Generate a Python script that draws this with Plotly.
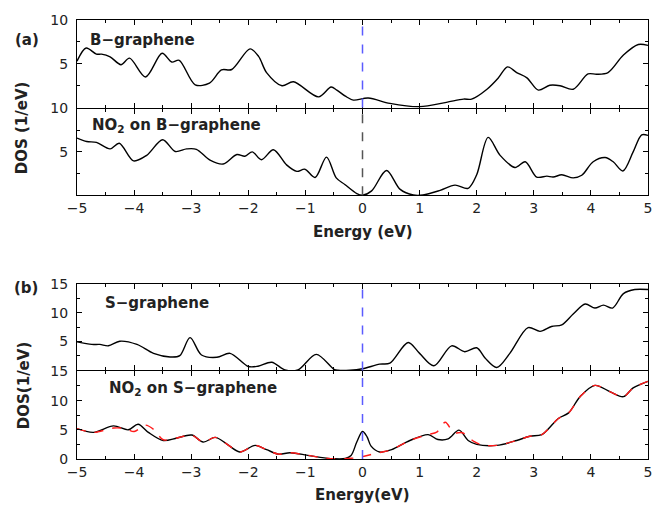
import plotly.graph_objects as go

# ---------------- data ----------------
E_b = [-5, -4.84, -4.66, -4.57, -4.42, -4.23, -4.08, -3.80, -3.51, -3.34, -3.21, -2.93, -2.68, -2.47,
       -2.29, -1.97, -1.82, -1.68, -1.41, -1.21, -0.77, -0.55, -0.45, -0.30, -0.16, 0.10, 0.48, 1.0,
       1.47, 1.77, 1.91, 2.18, 2.38, 2.54, 2.70, 2.88, 3.08, 3.28, 3.46, 3.69, 3.95, 4.10, 4.30, 4.57,
       4.83, 5.0]
dos_b = [5.3, 6.8, 6.1, 6.1, 5.8, 4.9, 5.65, 3.5, 6.2, 5.2, 5.4, 2.6, 2.8, 4.3,
         4.35, 6.7, 5.85, 4.0, 2.5, 2.95, 1.23, 2.35, 2.0, 1.3, 0.86, 1.09, 0.48, 0.1,
         0.6, 0.97, 0.97, 2.1, 3.4, 4.65, 4.0, 3.4, 2.0, 2.55, 2.5, 2.1, 3.85, 3.8, 4.0, 6.0,
         7.2, 7.1]

E_nb = [-5, -4.83, -4.66, -4.42, -4.26, -4.01, -3.78, -3.50, -3.28, -3.08, -2.91, -2.67, -2.44, -2.20,
        -2.06, -1.93, -1.77, -1.56, -1.33, -1.15, -1.01, -0.83, -0.63, -0.46, -0.31, -0.10, 0.0, 0.16,
        0.42, 0.66, 0.89, 1.06, 1.36, 1.62, 1.85, 2.0, 2.20, 2.41, 2.67, 2.85, 3.05, 3.23, 3.34, 3.49,
        3.69, 3.84, 4.04, 4.25, 4.39, 4.56, 4.74, 4.89, 5.0]
dos_nb = [6.6, 6.2, 6.1, 5.35, 6.0, 3.97, 4.6, 6.4, 5.05, 5.35, 5.3, 4.05, 3.6, 4.7,
          4.5, 5.0, 4.1, 5.25, 3.5, 2.75, 3.0, 2.05, 4.4, 2.0, 1.24, 0.19, 0.0, 0.5,
          2.85, 0.67, 0.02, 0.02, 0.56, 1.16, 0.8, 2.36, 6.67, 4.6, 3.2, 3.86, 2.1, 2.2, 2.1, 2.36,
          2.0, 2.3, 3.86, 4.35, 3.86, 2.8, 5.0, 6.97, 6.9]

E_s = [-5, -4.74, -4.60, -4.45, -4.25, -3.95, -3.66, -3.37, -3.20, -3.02, -2.82, -2.55, -2.32, -2.0,
       -1.83, -1.59, -1.36, -1.13, -0.81, -0.50, -0.43, -0.22, 0.0, 0.30, 0.48, 0.80, 1.0, 1.25,
       1.56, 1.79, 2.0, 2.15, 2.35, 2.58, 2.90, 3.11, 3.31, 3.49, 3.69, 3.90, 4.07, 4.22, 4.38,
       4.57, 4.77, 5.0]
dos_s = [4.94, 4.5, 4.5, 4.26, 5.06, 4.5, 2.95, 2.33, 2.56, 5.68, 2.67, 2.27, 2.95, 0.68,
         0.73, 1.42, 0.1, 0.1, 2.78, 0.2, 0.02, 0.02, 0.28, 1.08, 1.25, 4.83, 2.95, 0.8,
         4.26, 3.24, 3.92, 2.1, 0.5, 2.95, 7.4, 6.76, 7.6, 7.9, 9.77, 11.5, 10.8, 11.3, 10.8,
         13.3, 14.0, 14.0]

E_ns = [-5, -4.71, -4.36, -4.10, -3.93, -3.75, -3.49, -3.25, -2.99, -2.79, -2.58, -2.38, -2.15, -1.88,
        -1.68, -1.47, -1.27, -0.98, -0.74, -0.51, -0.30, -0.20, -0.10, 0.0, 0.08, 0.15, 0.30, 0.51,
        0.83, 1.15, 1.32, 1.50, 1.69, 1.85, 2.0, 2.35, 2.70, 2.93, 3.14, 3.43, 3.61, 3.81, 4.07,
        4.34, 4.57, 4.74, 5.0]
dos_ns = [5.2, 4.56, 5.67, 5.0, 5.95, 4.56, 3.17, 3.6, 4.1, 2.9, 3.7, 2.6, 1.2, 2.33,
          1.6, 0.83, 1.06, 0.67, 0.28, 0.05, 0.1, 0.6, 2.9, 4.7, 3.8, 2.2, 1.2, 1.6,
          3.17, 4.17, 3.33, 3.44, 4.94, 3.17, 2.5, 2.33, 3.17, 3.9, 4.17, 6.94, 7.9, 10.67, 12.6,
          11.5, 10.67, 12.17, 13.3]

E_ns_red = [-5, -4.71, -4.36, -4.15, -4.0, -3.8, -3.65, -3.49, -3.25, -2.99, -2.79, -2.58, -2.38, -2.15,
            -1.88, -1.68, -1.47, -1.27, -0.98, -0.74, -0.51, -0.20, 0.0, 0.20, 0.35, 0.51, 0.83, 1.15,
            1.30, 1.45, 1.60, 1.75, 1.95, 2.10, 2.35, 2.70, 2.93, 3.14, 3.43, 3.61, 3.81, 4.07, 4.34,
            4.57, 4.74, 5.0]
dos_ns_red = [5.2, 4.56, 5.3, 5.2, 4.7, 5.8, 5.0, 3.3, 3.6, 4.1, 2.9, 3.7, 2.6, 1.2,
              2.33, 1.6, 0.83, 1.06, 0.67, 0.28, 0.05, 0.12, 0.4, 0.9, 1.2, 1.6, 3.17, 4.2,
              4.6, 6.3, 4.5, 4.5, 3.0, 2.4, 2.33, 3.17, 3.9, 4.17, 6.94, 7.9, 10.67, 12.6, 11.5,
              10.67, 12.17, 13.3]

x_ticks = [-5, -4, -3, -2, -1, 0, 1, 2, 3, 4, 5]
panel_titles = ["B−graphene", "NO<sub>2</sub> on B−graphene", "S−graphene", "NO<sub>2</sub> on S−graphene"]

# ---------------- layout helpers ----------------
W, H = 666, 511
L, R, T, B = 77, 18, 13, 52
pw, ph = W - L - R, H - T - B


def px_x(p):
    return (p - L) / pw


def px_y(p):
    return (H - B - p) / ph


FONT = "DejaVu Sans"
domains = [
    [px_y(102), 1.0],
    [px_y(191), px_y(103)],
    [px_y(369), px_y(281)],
    [0.0, px_y(370)],
]

fig = go.Figure()
series = [(E_b, dos_b), (E_nb, dos_nb), (E_s, dos_s), (E_ns, dos_ns)]
for i, (ex, ey) in enumerate(series):
    sfx = "" if i == 0 else str(i + 1)
    fig.add_trace(go.Scatter(x=ex, y=ey, mode="lines", xaxis="x" + sfx, yaxis="y" + sfx,
                             line=dict(color="black", width=1.4, shape="spline", smoothing=0.9),
                             showlegend=False, hoverinfo="skip"))
fig.add_trace(go.Scatter(x=E_ns_red, y=dos_ns_red, mode="lines", xaxis="x4", yaxis="y4",
                         line=dict(color="#ff1a1a", width=1.4, dash="dash", shape="spline", smoothing=0.9),
                         showlegend=False, hoverinfo="skip"))

axis_common = dict(showline=True, linecolor="black", linewidth=1, mirror="ticks",
                   ticks="inside", ticklen=5, tickcolor="black", tickwidth=1,
                   showgrid=False, zeroline=False,
                   tickfont=dict(family=FONT, size=14, color="#222"))

yspecs = [
    dict(range=[0, 10], tickvals=[5, 10], minor_vals=[2.5, 7.5]),
    dict(range=[0, 10], tickvals=[5, 10], minor_vals=[2.5, 7.5]),
    dict(range=[0, 15], tickvals=[5, 10, 15], minor_vals=[2.5, 7.5, 12.5]),
    dict(range=[0, 15], tickvals=[0, 5, 10, 15], minor_vals=[2.5, 7.5, 12.5]),
]

for i in range(4):
    sfx = "" if i == 0 else str(i + 1)
    show_x_labels = i in (1, 3)
    fig.layout["xaxis" + sfx] = dict(
        axis_common, domain=[0, 1], anchor="y" + sfx, range=[-5, 5],
        tickvals=x_ticks, showticklabels=show_x_labels,
        minor=dict(ticks="inside", dtick=0.5, tick0=0, ticklen=3, tickcolor="black"),
    )
    ys = yspecs[i]
    fig.layout["yaxis" + sfx] = dict(
        axis_common, domain=domains[i], anchor="x" + sfx, range=ys["range"],
        tickvals=ys["tickvals"], ticktext=[str(v) for v in ys["tickvals"]],
        ticklabelstandoff=5,
        minor=dict(ticks="inside", tickvals=ys["minor_vals"], ticklen=3, tickcolor="black"),
    )

# vertical dashed lines at Fermi level
line_specs = [("x", "y", "#5b5bff"), ("x2", "y2", "#555555"), ("x3", "y3", "#5b5bff"), ("x4", "y4", "#5b5bff")]
shapes = []
for xr, yr, col in line_specs:
    shapes.append(dict(type="line", xref=xr, yref=yr + " domain", x0=0, x1=0, y0=0, y1=1,
                       line=dict(color=col, width=1.5, dash="dash")))
fig.update_layout(shapes=shapes)

ann = []
bold = dict(family=FONT, size=15, color="#222")
# panel titles
title_pos = [(88, 33), (90, 120), (103, 301), (107, 387)]
for (px, py), txt in zip(title_pos, panel_titles):
    ann.append(dict(x=px_x(px), y=px_y(py), xref="paper", yref="paper", text="<b>" + txt + "</b>",
                    showarrow=False, xanchor="left", yanchor="middle", font=bold))
# (a) (b)
ann.append(dict(x=px_x(27), y=px_y(33), xref="paper", yref="paper", text="<b>(a)</b>", showarrow=False,
                xanchor="center", yanchor="middle", font=bold))
ann.append(dict(x=px_x(26), y=px_y(285), xref="paper", yref="paper", text="<b>(b)</b>", showarrow=False,
                xanchor="center", yanchor="middle", font=bold))
# axis titles
ann.append(dict(x=px_x(22), y=px_y(123), xref="paper", yref="paper", text="<b>DOS (1/eV)</b>",
                showarrow=False, textangle=-90, xanchor="center", yanchor="middle", font=bold))
ann.append(dict(x=px_x(24), y=px_y(385), xref="paper", yref="paper", text="<b>DOS(1/eV)</b>",
                showarrow=False, textangle=-90, xanchor="center", yanchor="middle", font=bold))
ann.append(dict(x=px_x(363), y=px_y(228), xref="paper", yref="paper", text="<b>Energy (eV)</b>",
                showarrow=False, xanchor="center", yanchor="middle", font=bold))
ann.append(dict(x=px_x(362), y=px_y(496), xref="paper", yref="paper", text="<b>Energy(eV)</b>",
                showarrow=False, xanchor="center", yanchor="middle", font=bold))

fig.update_layout(
    width=W, height=H, autosize=False,
    margin=dict(l=L, r=R, t=T, b=B, pad=0),
    paper_bgcolor="white", plot_bgcolor="white",
    annotations=ann, showlegend=False,
    font=dict(family=FONT, color="#222"),
)

fig.write_html("out.html",
               config={"displayModeBar": False, "staticPlot": True},
               post_script="document.body.style.margin='0';document.body.style.padding='0';"
                           "document.body.style.overflow='hidden';")
